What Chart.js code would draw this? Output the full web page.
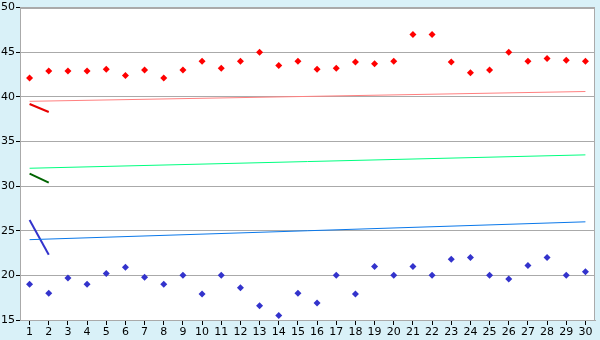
<!DOCTYPE html>
<html>
<head>
<meta charset="utf-8">
<script src="https://cdn.jsdelivr.net/npm/chart.js@4"></script>
<style>
  html, body { margin: 0; padding: 0; background: #d9f1f8; }
  #wrap { width: 600px; height: 340px; }
</style>
</head>
<body>
<div id="wrap"><canvas id="chart"></canvas></div>
<script>
const labels = ['1','2','3','4','5','6','7','8','9','10','11','12','13','14','15',
                '16','17','18','19','20','21','22','23','24','25','26','27','28','29','30'];

const redPoints = [42.1, 42.9, 42.9, 42.9, 43.1, 42.4, 43.0, 42.1, 43.0, 44.0,
                   43.2, 44.0, 45.0, 43.5, 44.0, 43.1, 43.2, 43.9, 43.7, 44.0,
                   47.0, 47.0, 43.9, 42.7, 43.0, 45.0, 44.0, 44.3, 44.1, 44.0];

const bluePoints = [19.0, 18.0, 19.7, 19.0, 20.2, 20.9, 19.8, 19.0, 20.0, 17.9,
                    20.0, 18.6, 16.6, 15.5, 18.0, 16.9, 20.0, 17.9, 21.0, 20.0,
                    21.0, 20.0, 21.8, 22.0, 20.0, 19.6, 21.1, 22.0, 20.0, 20.4];

// trend lines: value at first and last category only
const redTrend = [39.5, ...Array(28).fill(null), 40.6];
const greenTrend = [32.0, ...Array(28).fill(null), 33.5];
const blueTrend = [24.0, ...Array(28).fill(null), 26.0];

// short steep segments between category 1 and 2
const redSegment = [39.2, 38.3];
const greenSegment = [31.4, 30.4];
const blueSegment = [26.2, 22.3];

const frame = {
    id: 'frame',
    beforeDraw(chart) {
        const { ctx, chartArea: a } = chart;
        ctx.save();
        ctx.fillStyle = '#ffffff';
        ctx.fillRect(a.left, a.top, a.right - a.left, a.bottom - a.top);
        ctx.restore();
    },
    afterDraw(chart) {
        const { ctx, chartArea: a } = chart;
        ctx.save();
        ctx.strokeStyle = '#aaaaaa';
        ctx.lineWidth = 1;
        ctx.strokeRect(Math.round(a.left) + 0.5, Math.round(a.top) + 0.5,
                       Math.round(a.right - a.left) - 1, Math.round(a.bottom - a.top));
        ctx.restore();
    }
};

const lineSet = (data, color, width) => ({
    data: data,
    borderColor: color,
    borderWidth: width,
    pointRadius: 0,
    spanGaps: true,
    fill: false
});

const pointSet = (data, color) => ({
    data: data,
    showLine: false,
    pointStyle: 'rectRot',
    pointRadius: 3.5,
    pointBackgroundColor: color,
    pointBorderColor: color,
    pointBorderWidth: 0
});

new Chart(document.getElementById('chart'), {
    type: 'line',
    data: {
        labels: labels,
        datasets: [
            lineSet(redTrend, '#ff8080', 1),
            lineSet(greenTrend, '#00ff80', 1),
            lineSet(blueTrend, '#0a78ea', 1),
            lineSet(redSegment, '#e80000', 2),
            lineSet(greenSegment, '#006400', 2),
            lineSet(blueSegment, '#3333cc', 2),
            pointSet(redPoints, '#ff0000'),
            pointSet(bluePoints, '#3333cc')
        ]
    },
    options: {
        responsive: true,
        maintainAspectRatio: false,
        animation: false,
        layout: { padding: { top: 5, right: 5, left: 0, bottom: 0 } },
        plugins: {
            legend: { display: false },
            tooltip: { enabled: false }
        },
        scales: {
            x: {
                type: 'category',
                offset: true,
                grid: { drawOnChartArea: false, drawTicks: true, tickLength: 5, tickColor: '#000000' },
                border: { color: '#aaaaaa' },
                ticks: {
                    color: '#000000',
                    padding: 1,
                    maxRotation: 0,
                    autoSkip: false,
                    font: { family: 'DejaVu Sans', size: 11 }
                },
                afterFit: scale => { scale.height = 20; }
            },
            y: {
                min: 15,
                max: 50,
                grid: { color: '#aaaaaa', tickLength: 4, tickColor: '#000000' },
                border: { color: '#aaaaaa' },
                ticks: {
                    stepSize: 5,
                    color: '#000000',
                    padding: 1,
                    font: { family: 'DejaVu Sans', size: 11 }
                },
                afterFit: scale => { scale.width = 20; }
            }
        }
    },
    plugins: [frame]
});
</script>
</body>
</html>
